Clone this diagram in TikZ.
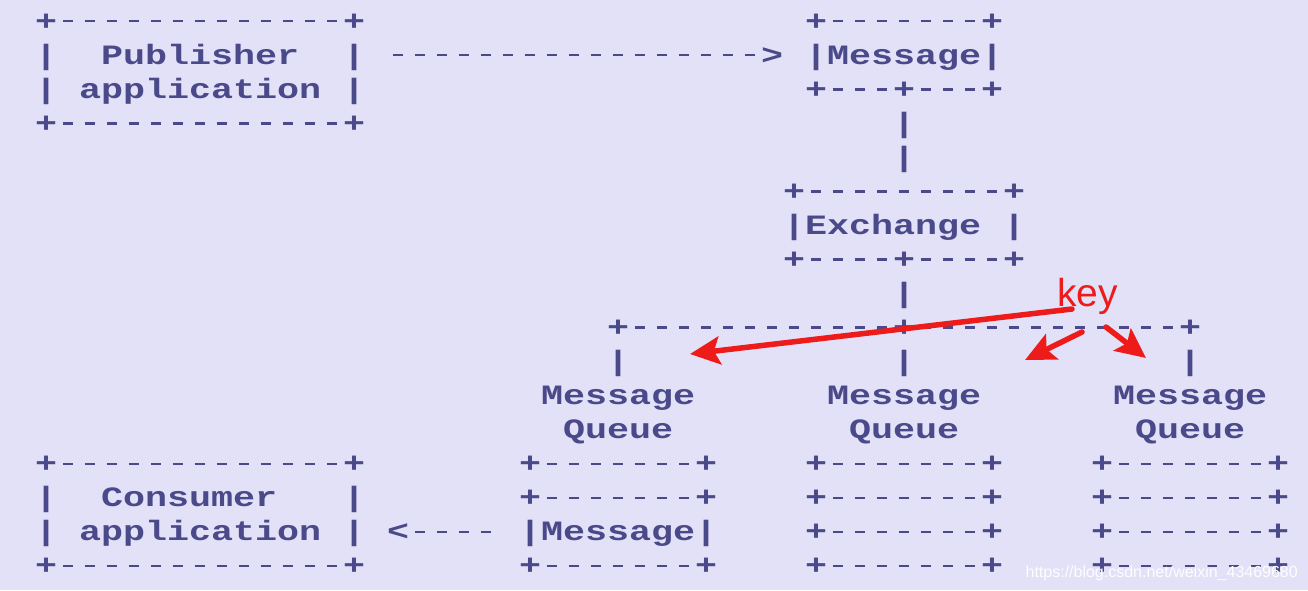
\documentclass[tikz,border=0pt]{standalone}
\usepackage{fontspec}
\usetikzlibrary{arrows.meta}
\newfontfamily\asciifont[FakeStretch=1.31]{Liberation Mono Bold}
\newfontfamily\keyfont{Liberation Sans}
\definecolor{bgc}{HTML}{E3E1F7}
\definecolor{inkc}{HTML}{4A4A8A}
\definecolor{redc}{HTML}{EE1B1B}
\tikzset{
  asc/.style={anchor=base west, inner sep=0pt, outer sep=0pt, text=inkc,
    font=\asciifont\fontsize{28}{34}\selectfont},
  redarrow/.style={draw=redc, line width=5.5pt, line cap=round,
    -{Stealth[length=30pt,width=28pt,inset=6pt]}},
}
\newcommand\gp[2]{({35+22*#1},{-30-34.06*#2})}
\newcommand\dd{\makebox[22pt][c]{\rule[7.6pt]{10.5pt}{2.6pt}}}
\newcommand\dsh[1]{\foreach\i in {1,...,#1}{\dd}}
\begin{document}
\begin{tikzpicture}[x=1pt,y=1pt]
\fill[bgc] (0,0) rectangle (1308,-590);
\useasboundingbox (0,0) rectangle (1308,-590);
% Publisher box
\node[asc] (pubT) at \gp{0}{0} {+\dsh{13}+};
\node[asc] (pubL1) at \gp{0}{1} {|};
\node[asc] (pubN) at \gp{3}{1} {Publisher};
\node[asc] (pubR1) at \gp{14}{1} {|};
\node[asc] (pubL2) at \gp{0}{2} {|};
\node[asc] (pubA) at \gp{2}{2} {application};
\node[asc] (pubR2) at \gp{14}{2} {|};
\node[asc] (pubB) at \gp{0}{3} {+\dsh{13}+};
\node[asc] (pubArrow) at \gp{16}{1} {\dsh{17}>};
% Message box top
\node[asc] (msgT) at \gp{35}{0} {+\dsh{7}+};
\node[asc] (msgN) at \gp{35}{1} {|Message|};
\node[asc] (msgB) at \gp{35}{2} {+\dsh{3}+\dsh{3}+};
\node[asc] (v1) at \gp{39}{3} {|};
\node[asc] (v2) at \gp{39}{4} {|};
% Exchange
\node[asc] (exT) at \gp{34}{5} {+\dsh{9}+};
\node[asc] (exN) at \gp{34}{6} {|Exchange};
\node[asc] (exR) at \gp{44}{6} {|};
\node[asc] (exB) at \gp{34}{7} {+\dsh{4}+\dsh{4}+};
\node[asc] (v3) at \gp{39}{8} {|};
\node[asc] (bus) at \gp{26}{9} {+\dsh{12}+\dsh{12}+};
\node[asc] (q1v) at \gp{26}{10} {|};
\node[asc] (q2v) at \gp{39}{10} {|};
\node[asc] (q3v) at \gp{52}{10} {|};
\node[asc] (q1m) at \gp{23}{11} {Message};
\node[asc] (q2m) at \gp{36}{11} {Message};
\node[asc] (q3m) at \gp{49}{11} {Message};
\node[asc] (q1q) at \gp{24}{12} {Queue};
\node[asc] (q2q) at \gp{37}{12} {Queue};
\node[asc] (q3q) at \gp{50}{12} {Queue};
% queue stacks
\foreach \c/\n in {22/a,35/b,48/c}{
  \node[asc] (s\n13) at \gp{\c}{13} {+\dsh{7}+};
  \node[asc] (s\n14) at \gp{\c}{14} {+\dsh{7}+};
  \node[asc] (s\n16) at \gp{\c}{16} {+\dsh{7}+};
}
\node[asc] (sa15) at \gp{22}{15} {|Message|};
\node[asc] (sb15) at \gp{35}{15} {+\dsh{7}+};
\node[asc] (sc15) at \gp{48}{15} {+\dsh{7}+};
% Consumer box
\node[asc] (conT) at \gp{0}{13} {+\dsh{13}+};
\node[asc] (conL1) at \gp{0}{14} {|};
\node[asc] (conN) at \gp{3}{14} {Consumer};
\node[asc] (conR1) at \gp{14}{14} {|};
\node[asc] (conL2) at \gp{0}{15} {|};
\node[asc] (conA) at \gp{2}{15} {application};
\node[asc] (conR2) at \gp{14}{15} {|};
\node[asc] (conB) at \gp{0}{16} {+\dsh{13}+};
\node[asc] (conArrow) at \gp{16}{15} {<\dsh{4}};
% key annotation
\node[anchor=base west, inner sep=0pt, text=redc, font=\keyfont\fontsize{39}{40}\selectfont] (key) at (1057,-306) {key};
\coordinate (k1) at (1072,-309);
\coordinate (k2) at (1082,-332);
\coordinate (k3) at (1106,-327);
\coordinate (t1) at (690,-354);
\coordinate (t2) at (1025,-360);
\coordinate (t3) at (1146,-358);
\draw[redarrow] (k1) -- (t1);
\draw[redarrow] (k2) -- (t2);
\draw[redarrow] (k3) -- (t3);
% watermark
\node[anchor=base east, inner sep=0pt, text=white!92!bgc, font=\keyfont\fontsize{16}{18}\selectfont] (wm) at (1298,-577) {https://blog.csdn.net/weixin\_43469680};
\end{tikzpicture}
\end{document}
